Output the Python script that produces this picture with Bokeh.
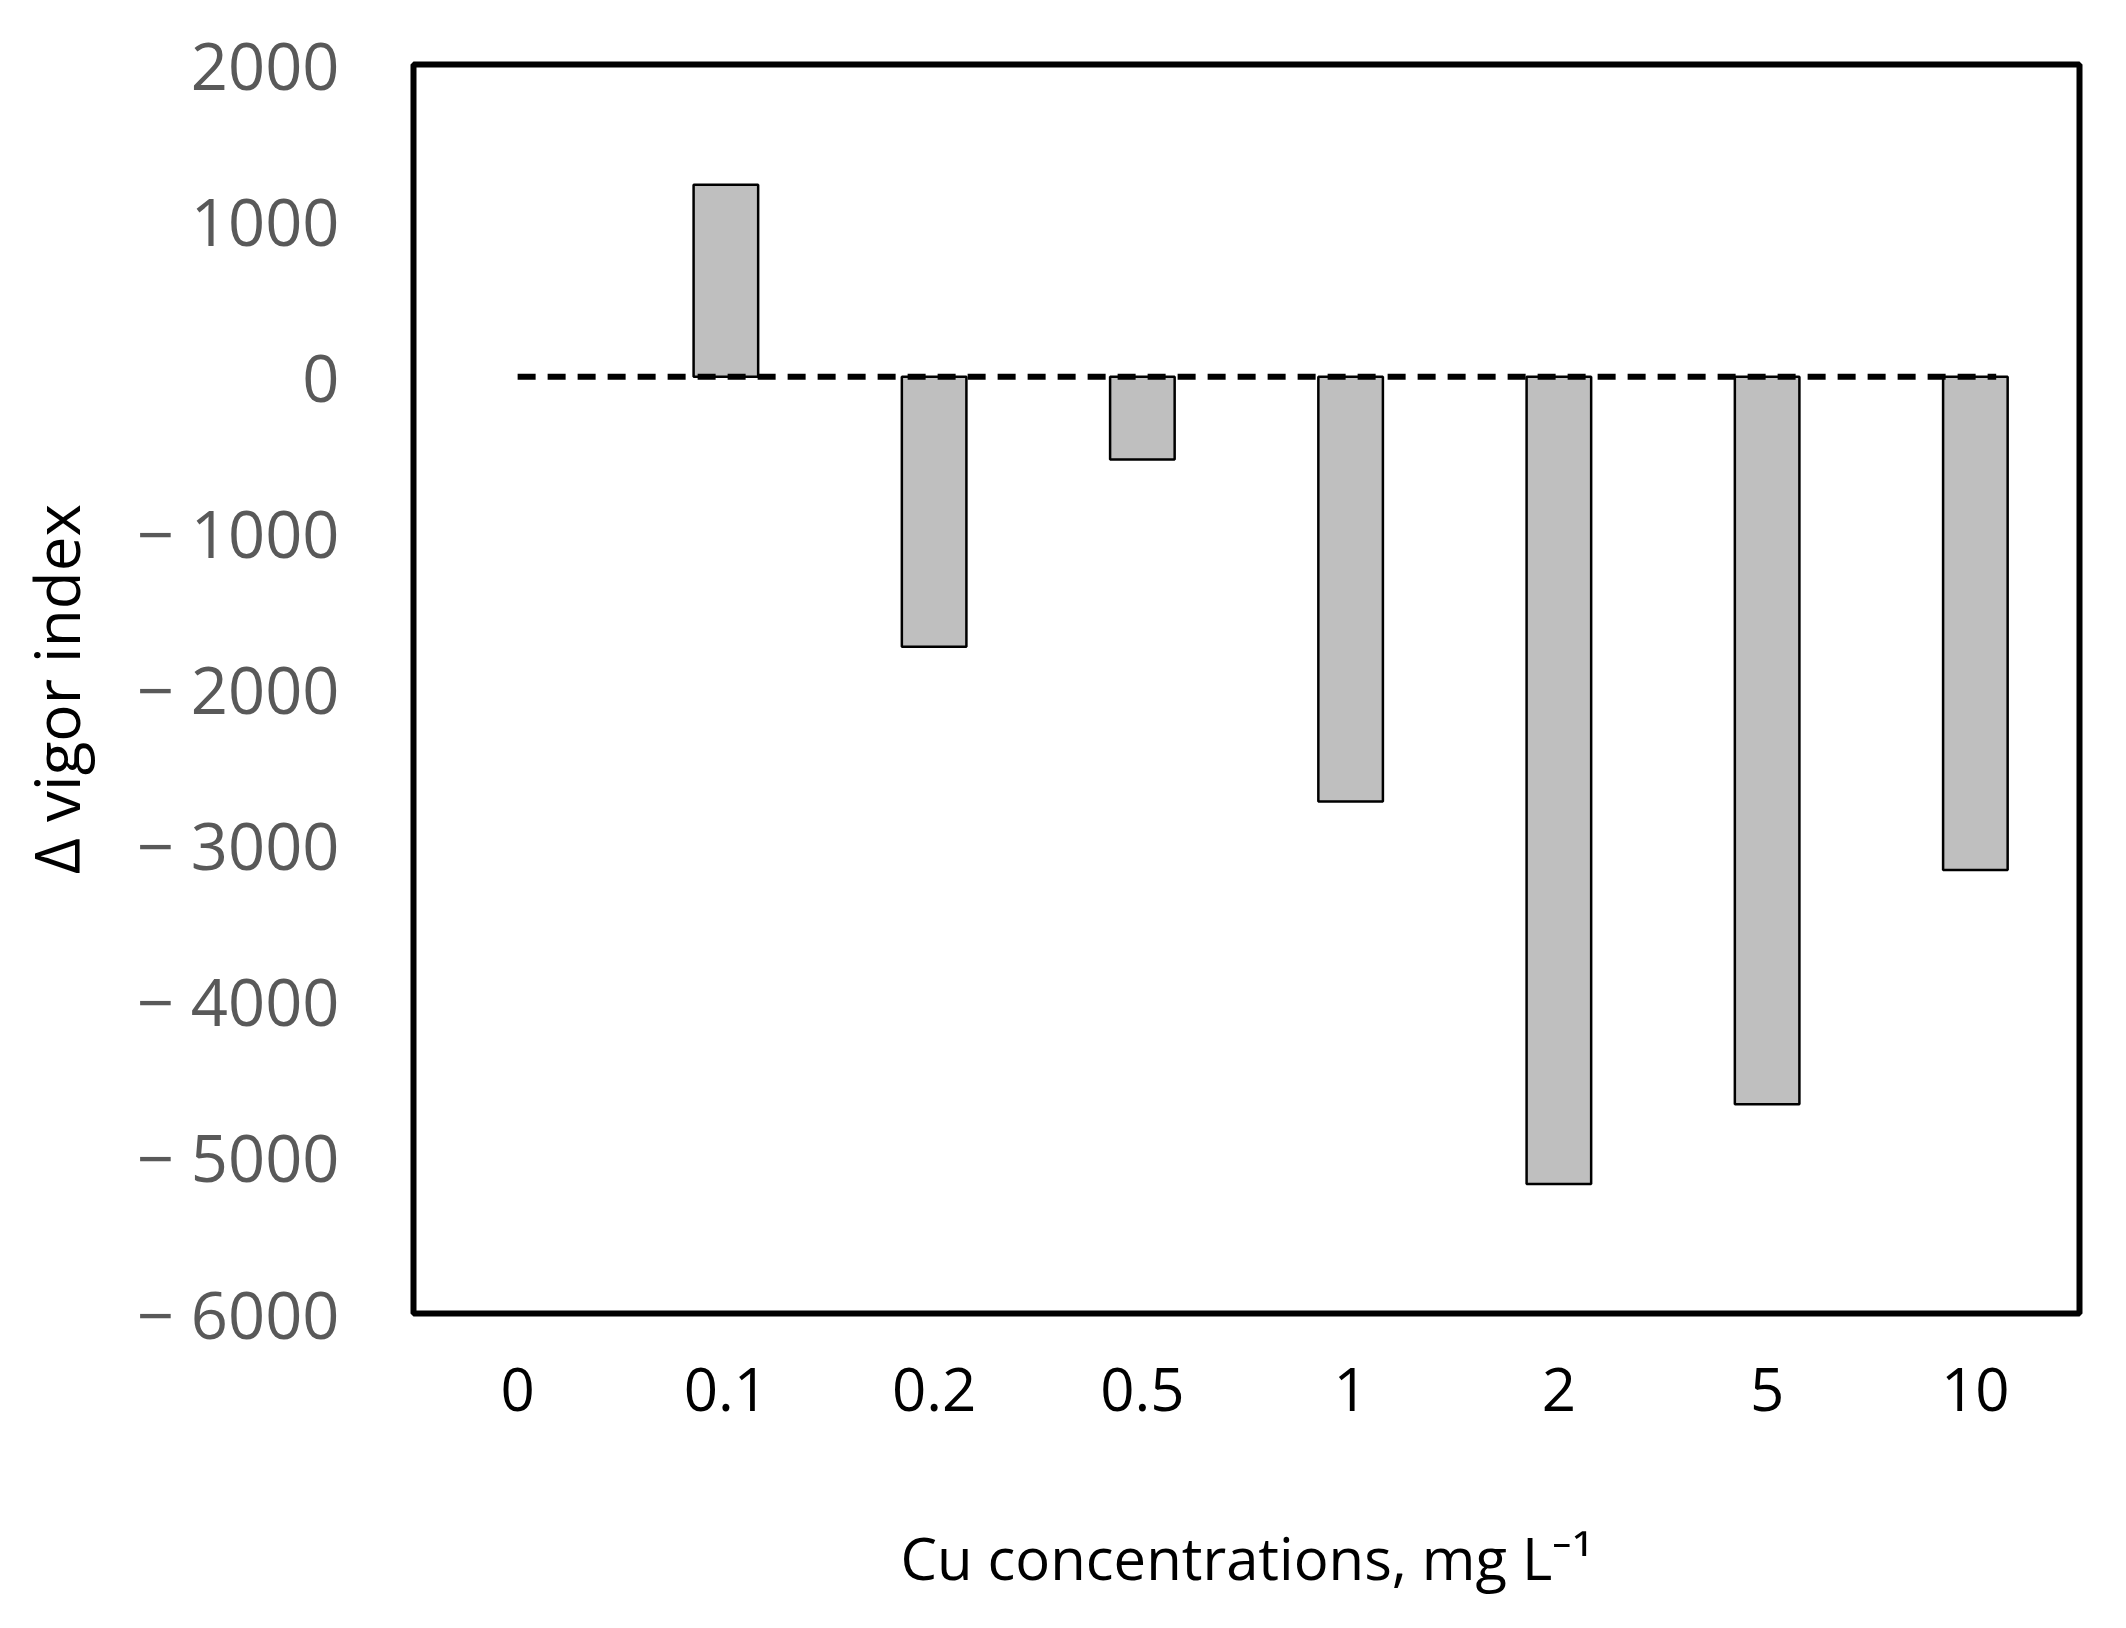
from bokeh.plotting import figure
from bokeh.models import FactorRange, FixedTicker, ColumnDataSource, Range1d
from bokeh.embed import file_html
from bokeh.resources import INLINE

categories = ["0", "0.1", "0.2", "0.5", "1", "2", "5", "10"]
delta_vigor = [0, 1230, -1730, -530, -2720, -5170, -4660, -3160]
y_ticks = [-6000, -5000, -4000, -3000, -2000, -1000, 0, 1000, 2000]
y_tick_labels = ["\u2212 6000", "\u2212 5000", "\u2212 4000", "\u2212 3000",
                 "\u2212 2000", "\u2212 1000", "0", "1000", "2000"]

FONT = "Open Sans"

p = figure(width=2110, height=1612, output_backend="svg", toolbar_location=None,
           x_range=FactorRange(factors=categories, range_padding=0),
           y_range=Range1d(-6000, 2000),
           min_border_left=413, min_border_right=31, min_border_top=64, min_border_bottom=299)

bars = [(c, v) for c, v in zip(categories, delta_vigor) if v != 0]
src = ColumnDataSource(dict(x=[b[0] for b in bars], top=[b[1] for b in bars]))
p.vbar(x="x", top="top", bottom=0, width=0.31, source=src,
       fill_color="#bfbfbf", line_color="black", line_width=2.5)

p.line(x=[categories[0], (categories[-1], 0.1)], y=[0, 0], line_color="black",
       line_width=6, line_dash="18 12")

p.xgrid.visible = False
p.ygrid.visible = False
p.outline_line_color = "black"
p.outline_line_width = 6

p.yaxis.ticker = FixedTicker(ticks=y_ticks)
p.yaxis.major_label_overrides = {t: l for t, l in zip(y_ticks, y_tick_labels)}
for ax in (p.xaxis[0], p.yaxis[0]):
    ax.axis_line_color = None
    ax.major_tick_line_color = None
    ax.minor_tick_line_color = None
    ax.major_label_text_font = FONT
    ax.axis_label_text_font = FONT
    ax.axis_label_text_font_style = "normal"

p.yaxis.major_label_text_font_size = "65px"
p.yaxis.major_label_text_color = "#595959"
p.yaxis.major_label_standoff = 68
p.yaxis.axis_label = "\u0394 vigor index"
p.yaxis.axis_label_text_font_size = "62px"
p.yaxis.axis_label_text_color = "black"
p.yaxis.axis_label_standoff = 36

p.xaxis.major_label_text_font_size = "60px"
p.xaxis.major_label_text_color = "black"
p.xaxis.major_label_standoff = 48
p.xaxis.axis_label = "Cu concentrations, mg L\u207b\u00b9"
p.xaxis.axis_label_text_font_size = "58px"
p.xaxis.axis_label_text_color = "black"
p.xaxis.axis_label_standoff = 104

open("out.html", "w").write(file_html(p, INLINE))
